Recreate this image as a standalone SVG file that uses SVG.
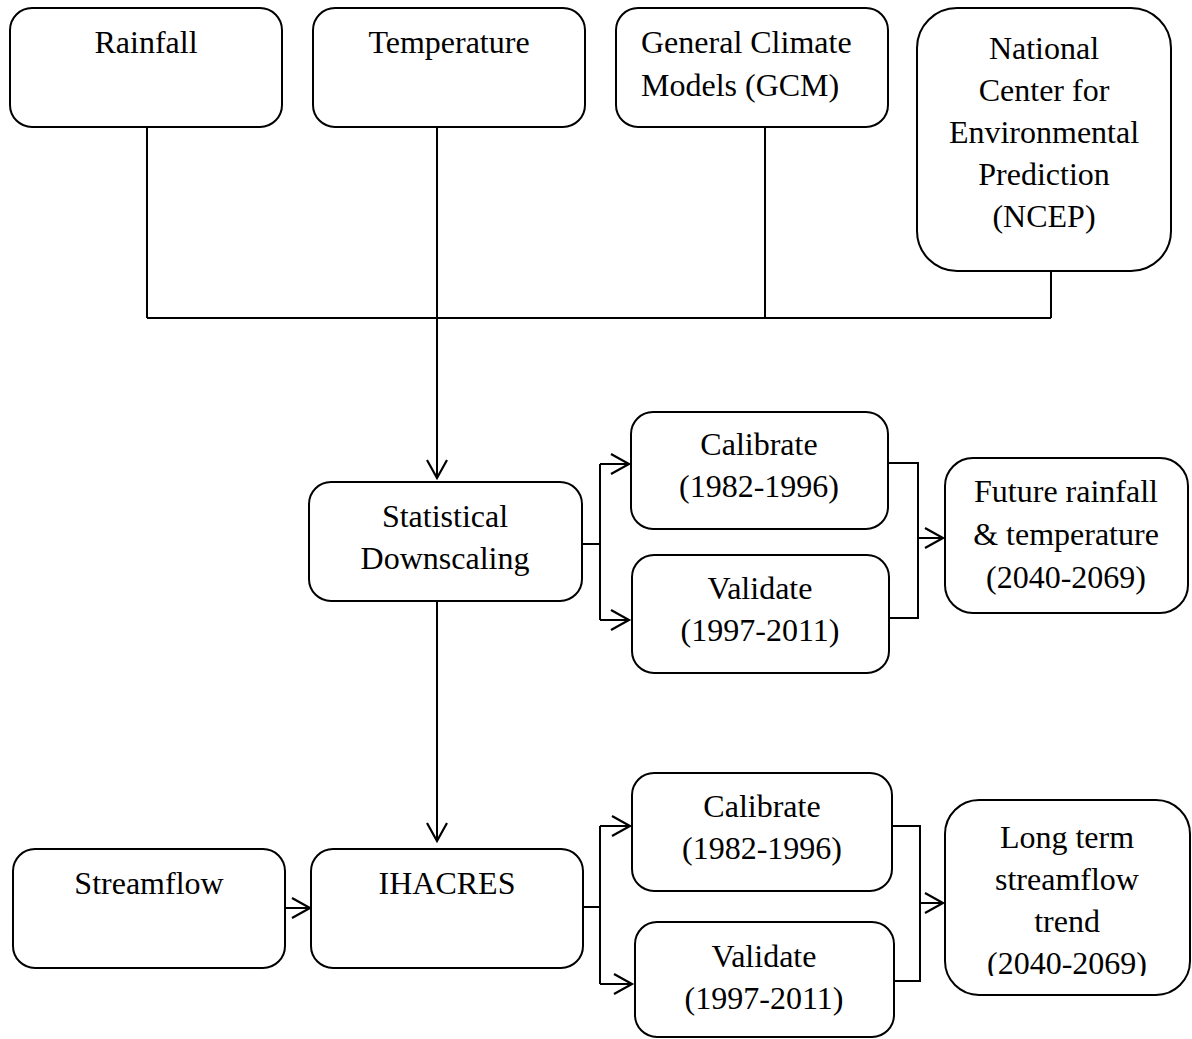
<svg xmlns="http://www.w3.org/2000/svg" width="1192" height="1039" viewBox="0 0 1192 1039">
<style>
.box{fill:#fff;stroke:#000;stroke-width:2}
.t{font-family:"Liberation Serif","Times New Roman",serif;font-size:32px;fill:#000;text-anchor:middle}
.c{fill:none;stroke:#000;stroke-width:2}
.a{fill:none;stroke:#000;stroke-width:2.2;stroke-linejoin:miter}
</style>
<defs>
<clipPath id="clipLT"><rect x="940" y="795" width="252" height="181"/></clipPath>
</defs>
<rect width="1192" height="1039" fill="#fff"/>
<g id="connectors">
<path class="c" d="M147 127V318M437 127V318M765 127V318M1051 271V318M147 318H1051"/>
<path class="c" d="M437 318V478"/>
<path class="a" d="M427 460L437 478L447 460"/>
<path class="c" d="M582 544H600M600 464V620M600 464H629M600 620H629"/>
<path class="a" d="M611 454L629 464L611 474M611 610L629 620L611 630"/>
<path class="c" d="M888 463H918V618H889M918 538H943"/>
<path class="a" d="M925 528L943 538L925 548"/>
<path class="c" d="M437 601V841"/>
<path class="a" d="M427 823L437 841L447 823"/>
<path class="c" d="M285 908H310"/>
<path class="a" d="M292 898L310 908L292 918"/>
<path class="c" d="M583 907H600M600 826V984M600 826H630M600 984H632"/>
<path class="a" d="M612 816L630 826L612 836M614 974L632 984L614 994"/>
<path class="c" d="M892 826H920V981H891M920 903H943"/>
<path class="a" d="M925 893L943 903L925 913"/>
</g>
<g id="rainfall"><rect class="box" x="10" y="8" width="272" height="119" rx="22"/><text class="t" x="146" y="53">Rainfall</text></g>
<g id="temperature"><rect class="box" x="313" y="8" width="272" height="119" rx="22"/><text class="t" x="449" y="53">Temperature</text></g>
<g id="gcm"><rect class="box" x="616" y="8" width="272" height="119" rx="22"/><text class="t" x="641" y="53" style="text-anchor:start">General Climate</text><text class="t" x="641" y="96" style="text-anchor:start">Models (GCM)</text></g>
<g id="ncep"><rect class="box" x="917" y="8" width="254" height="263" rx="40"/><text class="t" x="1044" y="59">National</text><text class="t" x="1044" y="101">Center for</text><text class="t" x="1044" y="143">Environmental</text><text class="t" x="1044" y="185">Prediction</text><text class="t" x="1044" y="227">(NCEP)</text></g>
<g id="downscaling"><rect class="box" x="309" y="482" width="273" height="119" rx="22"/><text class="t" x="445" y="527">Statistical</text><text class="t" x="445" y="569">Downscaling</text></g>
<g id="calibrate1"><rect class="box" x="631" y="412" width="257" height="117" rx="22"/><text class="t" x="759" y="455">Calibrate</text><text class="t" x="759" y="497">(1982-1996)</text></g>
<g id="validate1"><rect class="box" x="632" y="555" width="257" height="118" rx="22"/><text class="t" x="760" y="599">Validate</text><text class="t" x="760" y="641">(1997-2011)</text></g>
<g id="future"><rect class="box" x="945" y="458" width="243" height="155" rx="28"/><text class="t" x="1066" y="502">Future rainfall</text><text class="t" x="1066" y="545">&amp; temperature</text><text class="t" x="1066" y="588">(2040-2069)</text></g>
<g id="streamflow"><rect class="box" x="13" y="849" width="272" height="119" rx="22"/><text class="t" x="149" y="894">Streamflow</text></g>
<g id="ihacres"><rect class="box" x="311" y="849" width="272" height="119" rx="22"/><text class="t" x="447" y="894">IHACRES</text></g>
<g id="calibrate2"><rect class="box" x="632" y="773" width="260" height="118" rx="22"/><text class="t" x="762" y="817">Calibrate</text><text class="t" x="762" y="859">(1982-1996)</text></g>
<g id="validate2"><rect class="box" x="635" y="922" width="259" height="115" rx="22"/><text class="t" x="764" y="967">Validate</text><text class="t" x="764" y="1009">(1997-2011)</text></g>
<g id="longterm"><rect class="box" x="945" y="800" width="245" height="195" rx="34"/><g clip-path="url(#clipLT)"><text class="t" x="1067" y="848">Long term</text><text class="t" x="1067" y="890">streamflow</text><text class="t" x="1067" y="932">trend</text><text class="t" x="1067" y="974">(2040-2069)</text></g></g>
</svg>
